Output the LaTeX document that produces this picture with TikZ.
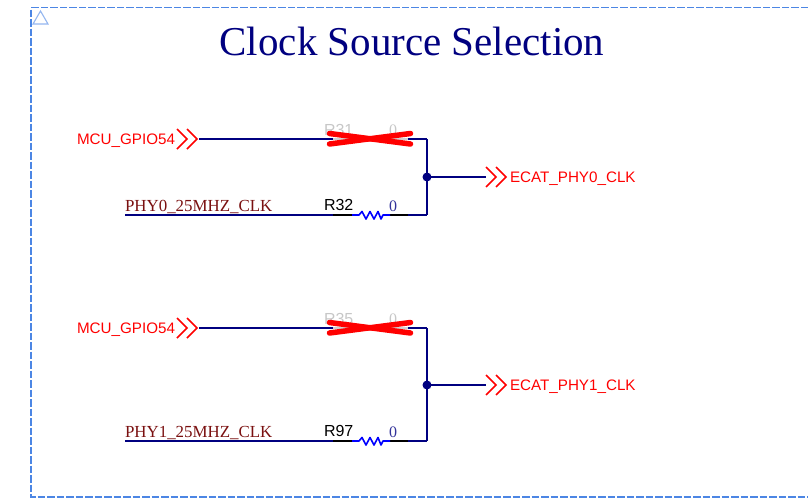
\documentclass[tikz,border=0pt]{standalone}
\usepackage{fontspec}
\setmainfont{Liberation Serif}
\newfontfamily\labelfont{Liberation Sans}
\usepackage{tikz}
\usetikzlibrary{%
  positioning
 ,calc
}
\definecolor{wirec}{HTML}{000080}
\definecolor{framec}{HTML}{4C86E4}
\definecolor{netc}{HTML}{7A1010}
\tikzstyle{aut}=[x=1pt,y=-1pt,on grid,inner sep=0pt,outer sep=0pt]
\tikzstyle{wire}=[draw=wirec,line width=1.8pt]
\tikzstyle{pinl}=[draw=black,line width=1.8pt]
\tikzstyle{body}=[draw=blue,line width=1.6pt,line join=round]
\tikzstyle{ghost}=[draw=black!18,line width=1.8pt]
\tikzstyle{cross}=[draw=red,line width=5.5pt,line cap=round]
\tikzstyle{port}=[text=red,font=\labelfont\fontsize{15.2}{17}\selectfont]
\tikzstyle{net}=[text=netc,font=\fontsize{16.9}{18}\selectfont,anchor=base west]
\tikzstyle{ref}=[text=black,font=\labelfont\fontsize{16}{18}\selectfont,anchor=base west]
\tikzstyle{refoff}=[text=black!22,font=\labelfont\fontsize{16}{18}\selectfont,anchor=base west]
\tikzstyle{val}=[text=wirec!80,font=\fontsize{16}{18}\selectfont,anchor=base west]
\tikzstyle{valoff}=[text=black!22,font=\fontsize{16}{18}\selectfont,anchor=base west]
\tikzstyle{dot}=[circle,fill=wirec,minimum size=9pt]
\tikzset{
  chev/.pic={\draw[red,line width=1.7pt] (0,-10)--(10,0)--(0,10) (10,-10)--(20,0)--(10,10);},
  zig/.pic={\draw[body] (0,0)--(7,0)--(10,-3.5)--(14,4)--(18,-3.5)--(22,4)--(26,-3.5)--(29,4)--(31,0)--(38,0);}
}
\begin{document}
\begin{tikzpicture}[aut]
      \useasboundingbox (0,0) rectangle (808,498);
      % sheet frame
      \draw[framec,line width=1.6pt,dash pattern=on 7.5pt off 2pt] (808,7.5) -- (31,7.5) -- (31,497) -- (808,497);
      \draw[framec!60,line width=1.1pt] (33,24) -- (48,24) -- (40.5,11) -- cycle;
      \node (title) at (412,41) {\textcolor{wirec}{\fontsize{41}{44}\selectfont Clock Source Selection}};

      % upper group
      \coordinate (g0) at (199,139);
      \coordinate (j0) at (427,177);
      \coordinate (c0) at (427,139);
      \coordinate (d0) at (427,215);
      \coordinate (n0) at (125,215);
      \coordinate (o0) at (486,177);
      \coordinate (a1) at (333,215);
      \coordinate (a2) at (352,215);
      \coordinate (a3) at (390,215);
      \coordinate (a4) at (408,215);
      \coordinate (x1) at (333,139);
      \coordinate (x2) at (408,139);
      \node[port,anchor=east] (mcu0) at (175,141) {MCU\_GPIO54};
      \node[port,anchor=west] (ecat0) at (510,179) {ECAT\_PHY0\_CLK};
      \node[net] (phy0) at (125,211) {PHY0\_25MHZ\_CLK};
      \node[refoff] (r31) at (324,135) {R31};
      \node[valoff] (v31) at (389,135) {0};
      \node[ref] (r32) at (324,210) {R32};
      \node[val] (v32) at (389,211) {0};
      \pic at (177,139) {chev};
      \pic at (486,177) {chev};
      \path[wire]
        (g0) edge (x1)
        (x2) edge (c0)
        (c0) edge (d0)
        (j0) edge (o0)
        (n0) edge (a1)
        (a4) edge (d0);
      \path[ghost] (x1) edge (x2);
      \path[pinl] (a1) edge (a2) (a3) edge (a4);
      \pic at (a2) {zig};
      \node[dot] (dot0) at (j0) {};
      \draw[cross] (329.5,133.5) -- (410.5,144);
      \draw[cross] (329.5,144) -- (410.5,133.5);

      % lower group
      \coordinate (g1) at (199,328);
      \coordinate (j1) at (427,385);
      \coordinate (c1) at (427,328);
      \coordinate (d1) at (427,441);
      \coordinate (n1) at (125,441);
      \coordinate (o1) at (486,385);
      \coordinate (b1) at (333,441);
      \coordinate (b2) at (352,441);
      \coordinate (b3) at (390,441);
      \coordinate (b4) at (408,441);
      \coordinate (y1) at (333,328);
      \coordinate (y2) at (408,328);
      \node[port,anchor=east] (mcu1) at (175,330) {MCU\_GPIO54};
      \node[port,anchor=west] (ecat1) at (510,387) {ECAT\_PHY1\_CLK};
      \node[net] (phy1) at (125,437) {PHY1\_25MHZ\_CLK};
      \node[refoff] (r35) at (324,324) {R35};
      \node[valoff] (v35) at (389,324) {0};
      \node[ref] (r97) at (324,436) {R97};
      \node[val] (v97) at (389,437) {0};
      \pic at (177,328) {chev};
      \pic at (486,385) {chev};
      \path[wire]
        (g1) edge (y1)
        (y2) edge (c1)
        (c1) edge (d1)
        (j1) edge (o1)
        (n1) edge (b1)
        (b4) edge (d1);
      \path[ghost] (y1) edge (y2);
      \path[pinl] (b1) edge (b2) (b3) edge (b4);
      \pic at (b2) {zig};
      \node[dot] (dot1) at (j1) {};
      \draw[cross] (329.5,322.5) -- (410.5,333);
      \draw[cross] (329.5,333) -- (410.5,322.5);
\end{tikzpicture}
\end{document}
